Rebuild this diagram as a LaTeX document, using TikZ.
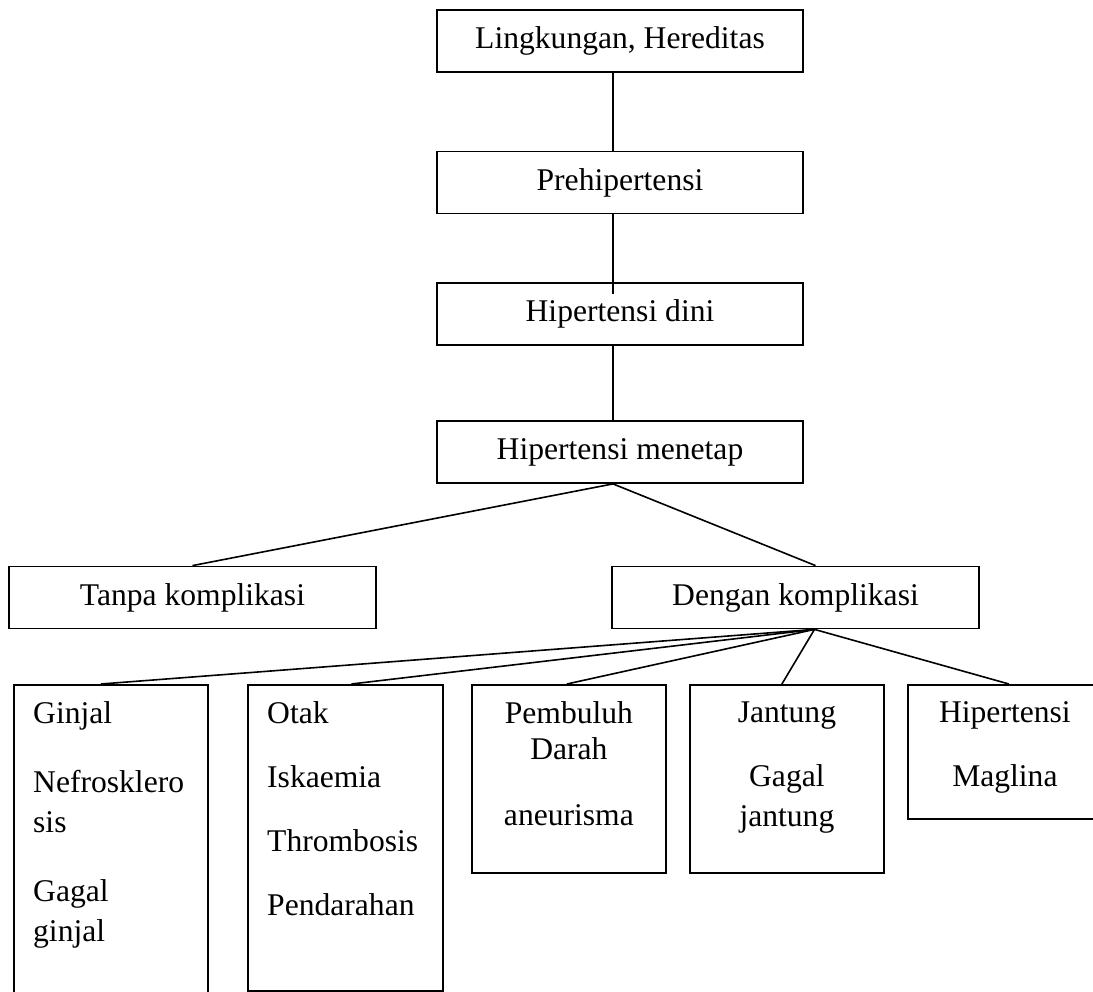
\documentclass[tikz,border=0pt]{standalone}
\usepackage{fontspec}
\setmainfont{Liberation Serif}
\usetikzlibrary{positioning}

\tikzset{
  box/.style={draw, line width=1.8pt, inner sep=0pt, minimum width=366pt, minimum height=62pt,
    font=\fontsize{31.6}{40}\selectfont},
  leaf/.style={draw, line width=1.8pt, inner sep=0pt, anchor=north west, minimum width=194pt},
  leaftext/.style={inner sep=0pt, font=\fontsize{31.6}{40}\selectfont},
  link/.style={line width=1.6pt},
}

\begin{document}
\begin{tikzpicture}[x=1pt,y=1pt,yscale=-1]
  \useasboundingbox (0,0) rectangle (1093,992);
  \clip (0,0) rectangle (1093,992);

  % main chain
  \node[box] (lingk) at (620,41) {Lingkungan, Hereditas};
  \node[box] (prehip) at (620,182.5) {Prehipertensi};
  \node[box] (dini) at (620,314) {Hipertensi dini};
  \node[box] (menetap) at (620,452) {Hipertensi menetap};
  \node[box, minimum width=367pt] (tanpa) at (192.5,597.5) {Tanpa komplikasi};
  \node[box, minimum width=367pt] (dengan) at (795.5,597.5) {Dengan komplikasi};

  % complication boxes
  \node[leaf, minimum height=330pt] (ginjal) at (13,684) {};
  \node[leaf, minimum width=195pt, minimum height=306pt] (otak) at (247,684) {};
  \node[leaf, minimum height=188pt] (pembuluh) at (471,684) {};
  \node[leaf, minimum height=188pt] (jantung) at (689,684) {};
  \node[leaf, minimum height=134pt] (hipmal) at (907,684) {};

  % texts inside
  \node[leaftext, align=left, below right=17.5pt and 20pt of ginjal.north west] (ginjaltxt)
    {Ginjal\\[29pt]Nefrosklero\\sis\\[29pt]Gagal\\ginjal};
  \node[leaftext, align=left, below right=17.5pt and 20pt of otak.north west] (otaktxt)
    {Otak\\[24pt]Iskaemia\\[24pt]Thrombosis\\[24pt]Pendarahan};
  \node[leaftext, align=center, below=17.5pt of pembuluh.north] (pembuluhtxt)
    {Pembuluh\\[-4pt]Darah\\[26pt]aneurisma};
  \node[leaftext, align=center, below=17.5pt of jantung.north] (jantungtxt)
    {Jantung\\[24pt]Gagal\\jantung};
  \node[leaftext, align=center, below=17.5pt of hipmal.north] (hipmaltxt)
    {Hipertensi\\[24pt]Maglina};

  % connectors
  \draw[link] ([xshift=-7pt]lingk.south) -- ([xshift=-7pt]prehip.north);
  \draw[link, shorten >=-12pt] ([xshift=-7pt]prehip.south) -- ([xshift=-7pt]dini.north);
  \draw[link] ([xshift=-7pt]dini.south) -- ([xshift=-7pt]menetap.north);
  \draw[link] ([xshift=-7pt]menetap.south) -- (tanpa.north);
  \draw[link] ([xshift=-7pt]menetap.south) -- ([xshift=20pt]dengan.north);

  \coordinate (hub) at ([xshift=19pt]dengan.south);
  \draw[link] (hub) -- ([xshift=-10pt]ginjal.north);
  \draw[link] (hub) -- ([xshift=6pt]otak.north);
  \draw[link] (hub) -- ([xshift=-2pt]pembuluh.north);
  \draw[link] (hub) -- ([xshift=-5pt]jantung.north);
  \draw[link] (hub) -- ([xshift=4pt]hipmal.north);
\end{tikzpicture}
\end{document}
